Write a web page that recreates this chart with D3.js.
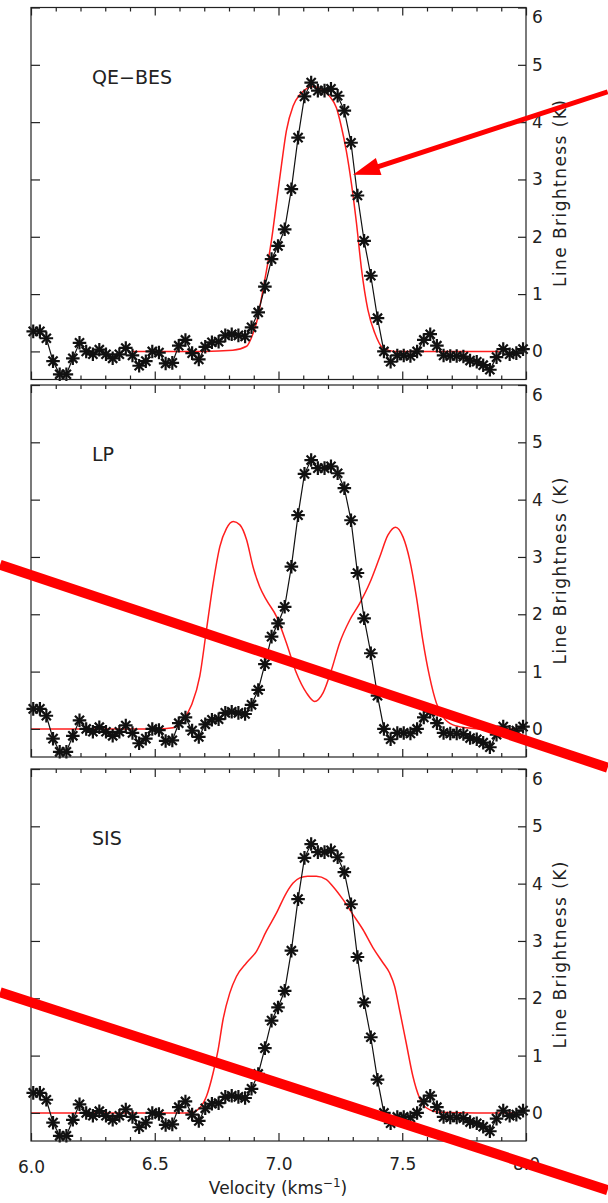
<!DOCTYPE html>
<html>
<head>
<meta charset="utf-8">
<script src="https://cdn.jsdelivr.net/npm/d3@7"></script>
<style>
  body { margin: 0; background: #fff; }
  svg { display: block; }
  text { font-family: "DejaVu Sans", sans-serif; fill: #222; }
</style>
</head>
<body>
<div id="chart"></div>
<script>
// Observed spectrum (same in every panel)
const velocity = [
  6.009, 6.036, 6.062, 6.089, 6.116, 6.143, 6.169, 6.196, 6.223, 6.250,
  6.276, 6.303, 6.330, 6.357, 6.383, 6.410, 6.437, 6.464, 6.490, 6.517,
  6.544, 6.571, 6.597, 6.624, 6.651, 6.678, 6.704, 6.731, 6.758, 6.785,
  6.811, 6.838, 6.865, 6.891, 6.918, 6.945, 6.972, 6.998, 7.025, 7.052,
  7.079, 7.105, 7.132, 7.159, 7.186, 7.212, 7.239, 7.266, 7.293, 7.319,
  7.346, 7.373, 7.400, 7.426, 7.453, 7.480, 7.506, 7.533, 7.560, 7.587,
  7.613, 7.640, 7.667, 7.694, 7.720, 7.747, 7.774, 7.801, 7.827, 7.854,
  7.881, 7.908, 7.934, 7.961, 7.988
];
const brightness = [
  0.35, 0.35, 0.23, -0.17, -0.40, -0.40, -0.12, 0.15, 0.00, -0.05,
  0.03, -0.05, -0.12, -0.05, 0.06, -0.07, -0.25, -0.17, 0.00, -0.02,
  -0.21, -0.20, 0.10, 0.20, -0.03, -0.14, 0.08, 0.16, 0.17, 0.28,
  0.30, 0.28, 0.26, 0.42, 0.68, 1.13, 1.61, 1.84, 2.13, 2.83,
  3.73, 4.45, 4.69, 4.55, 4.55, 4.58, 4.46, 4.20, 3.64, 2.72,
  1.93, 1.32, 0.58, 0.00, -0.18, -0.07, -0.07, -0.08, 0.00, 0.20,
  0.30, 0.10, -0.07, -0.08, -0.08, -0.09, -0.16, -0.18, -0.24, -0.32,
  -0.10, 0.04, -0.05, -0.03, 0.04
];

// Model profiles (red)
const qeVel = [6.412, 6.700, 6.815, 6.871, 6.896, 6.917, 6.932, 6.951, 6.972, 6.992,
  7.012, 7.032, 7.059, 7.086, 7.106, 7.134, 7.166, 7.207, 7.234, 7.254,
  7.274, 7.294, 7.315, 7.335, 7.361, 7.389, 7.422, 7.469, 7.600, 7.893];
const qeT = [0, 0, 0.02, 0.09, 0.30, 0.60, 0.95, 1.40, 1.95, 2.60,
  3.25, 3.85, 4.28, 4.48, 4.56, 4.62, 4.59, 4.45, 4.25, 3.92,
  3.50, 2.95, 2.24, 1.45, 0.73, 0.32, 0.06, 0, 0, 0];

const lpVel = [6.000, 6.300, 6.521, 6.574, 6.615, 6.649, 6.682, 6.709, 6.736, 6.763,
  6.790, 6.817, 6.844, 6.871, 6.897, 6.924, 6.951, 6.992, 7.032, 7.072,
  7.113, 7.146, 7.180, 7.214, 7.247, 7.288, 7.328, 7.368, 7.409, 7.442,
  7.473, 7.503, 7.530, 7.557, 7.583, 7.610, 7.638, 7.664, 7.705, 7.759,
  7.812, 8.000];
const lpT = [0, 0, 0, 0.02, 0.16, 0.42, 0.92, 1.73, 2.54, 3.18,
  3.50, 3.62, 3.56, 3.30, 2.83, 2.48, 2.25, 1.96, 1.50, 0.98,
  0.63, 0.48, 0.63, 1.03, 1.50, 1.90, 2.19, 2.54, 3.00, 3.38,
  3.52, 3.35, 2.95, 2.31, 1.55, 0.92, 0.45, 0.22, 0.07, 0.02,
  0, 0];

const sisVel = [6.000, 6.400, 6.642, 6.682, 6.709, 6.736, 6.756, 6.776, 6.803, 6.830,
  6.871, 6.911, 6.951, 6.992, 7.032, 7.059, 7.086, 7.118, 7.153, 7.194,
  7.220, 7.261, 7.301, 7.341, 7.382, 7.422, 7.449, 7.469, 7.489, 7.516,
  7.543, 7.570, 7.597, 7.651, 7.800, 8.000];
const sisT = [0, 0, 0, 0.09, 0.29, 0.70, 1.10, 1.63, 2.09, 2.38,
  2.62, 2.82, 3.17, 3.49, 3.84, 4.01, 4.10, 4.13, 4.13, 4.07,
  3.95, 3.72, 3.46, 3.20, 2.88, 2.62, 2.44, 2.21, 1.80, 1.22,
  0.64, 0.26, 0.09, 0.01, 0, 0];

const panelNames = ["QE\u2212BES", "LP", "SIS"];
const yTickValues = [0, 1, 2, 3, 4, 5, 6];
const xMajorTicks = [6.0, 6.5, 7.0, 7.5, 8.0];
const xMinorTicks = [6.1, 6.2, 6.3, 6.4, 6.6, 6.7, 6.8, 6.9, 7.1, 7.2, 7.3, 7.4, 7.6, 7.7, 7.8, 7.9];

// Hand-drawn red annotations, in data units of the panel they start in
const arrowNote = { panel: 0, from: [8.33, 4.53], to: [7.301, 3.08] };
const slashNotes = [
  { panel: 1, from: [5.875, 2.866], to: [8.33, -0.677] },
  { panel: 2, from: [5.875, 2.105], to: [8.33, -1.347] }
];

const width = 608;
const height = 1203;
const panelTop = [7.5, 385, 769];
const panelH = 372;

const svg = d3.select("#chart").append("svg")
  .attr("width", width)
  .attr("height", height);

const x = d3.scaleLinear().domain([6, 8]).range([31, 526]);

const models = [
  qeVel.map((v, i) => ({ v, t: qeT[i] })),
  lpVel.map((v, i) => ({ v, t: lpT[i] })),
  sisVel.map((v, i) => ({ v, t: sisT[i] }))
];
const obs = velocity.map((v, i) => ({ v, t: brightness[i] }));

const yScales = panelTop.map((top) =>
  d3.scaleLinear().domain([-0.49, 6]).range([top + panelH, top])
);

const styleTicks = (a) => {
  a.select(".domain").remove();
  a.selectAll(".tick line").attr("stroke", "#222").attr("stroke-width", 1.2);
  a.selectAll(".tick text")
    .attr("fill", "#222")
    .style("font-family", '"DejaVu Sans", sans-serif')
    .style("font-size", "17px");
};

panelTop.forEach((top, p) => {
  const y = yScales[p];
  const g = svg.append("g");

  // Model line
  const modelLine = d3.line()
    .x((d) => x(d.v))
    .y((d) => y(d.t))
    .curve(d3.curveMonotoneX);

  g.append("path")
    .datum(models[p])
    .attr("fill", "none")
    .attr("stroke", "#ff1e1e")
    .attr("stroke-width", 1.5)
    .attr("d", modelLine);

  // Observed line with star markers
  const obsLine = d3.line().x((d) => x(d.v)).y((d) => y(d.t));
  g.append("path")
    .datum(obs)
    .attr("fill", "none")
    .attr("stroke", "#111")
    .attr("stroke-width", 1.2)
    .attr("d", obsLine);

  [d3.symbolPlus, d3.symbolTimes].forEach((type) => {
    g.selectAll(null)
      .data(obs)
      .join("path")
      .attr("transform", (d) => `translate(${x(d.v)},${y(d.t)})`)
      .attr("d", d3.symbol().type(type).size(type === d3.symbolPlus ? 62 : 56))
      .attr("fill", "none")
      .attr("stroke", "#111")
      .attr("stroke-width", 2.2);
  });

  // Frame
  g.append("rect")
    .attr("x", x(6))
    .attr("y", top)
    .attr("width", x(8) - x(6))
    .attr("height", panelH)
    .attr("fill", "none")
    .attr("stroke", "#222")
    .attr("stroke-width", 1.2);

  // Ticks, all pointing inward
  const bottomMajor = d3.axisBottom(x).tickValues(xMajorTicks).tickSize(-8).tickPadding(17);
  if (p === 2) bottomMajor.tickFormat(d3.format(".1f"));
  else bottomMajor.tickFormat("");

  const axes = [
    [bottomMajor, `translate(0,${top + panelH})`],
    [d3.axisBottom(x).tickValues(xMinorTicks).tickSize(-4).tickFormat(""), `translate(0,${top + panelH})`],
    [d3.axisTop(x).tickValues(xMajorTicks).tickSize(-8).tickFormat(""), `translate(0,${top})`],
    [d3.axisTop(x).tickValues(xMinorTicks).tickSize(-4).tickFormat(""), `translate(0,${top})`],
    [d3.axisLeft(y).tickValues(yTickValues).tickSize(-9).tickFormat(""), `translate(${x(6)},0)`],
    [d3.axisRight(y).tickValues(yTickValues).tickSize(-8).tickPadding(6).tickFormat(d3.format("d")), `translate(${x(8)},0)`]
  ];

  axes.forEach(([axis, at]) => {
    g.append("g").attr("transform", at).call(axis).call(styleTicks);
  });

  // top label sits a little below its tick, as in the original
  g.selectAll(".tick text").filter((d) => d === 6).attr("dy", "0.9em");

  // Y axis title
  g.append("text")
    .attr("transform", `translate(566,${top + panelH / 2}) rotate(-90)`)
    .attr("text-anchor", "middle")
    .attr("textLength", 187)
    .attr("lengthAdjust", "spacing")
    .style("font-size", "17px")
    .text("Line Brightness  (K)");

  // Panel name
  g.append("text")
    .attr("x", 92)
    .attr("y", top + 76)
    .style("font-size", "19px")
    .text(panelNames[p]);
});

// X axis title
const xTitle = svg.append("text")
  .attr("x", 278)
  .attr("y", 1194)
  .attr("text-anchor", "middle")
  .style("font-size", "17px");
xTitle.append("tspan").text("Velocity  (kms");
xTitle.append("tspan").attr("dy", -7).style("font-size", "12px").text("\u22121");
xTitle.append("tspan").attr("dy", 7).text(")");

// Red annotation marks on top
const notes = svg.append("g");

slashNotes.forEach((n) => {
  const y = yScales[n.panel];
  notes.append("line")
    .attr("x1", x(n.from[0])).attr("y1", y(n.from[1]))
    .attr("x2", x(n.to[0])).attr("y2", y(n.to[1]))
    .attr("stroke", "#ff0000")
    .attr("stroke-width", 10);
});

{
  const y = yScales[arrowNote.panel];
  const x1 = x(arrowNote.from[0]), y1 = y(arrowNote.from[1]);
  const x2 = x(arrowNote.to[0]), y2 = y(arrowNote.to[1]);
  const len = Math.hypot(x2 - x1, y2 - y1);
  const ux = (x2 - x1) / len, uy = (y2 - y1) / len;
  const headLen = 27, headHalf = 9;
  const bx = x2 - ux * headLen, by = y2 - uy * headLen;

  notes.append("line")
    .attr("x1", x1).attr("y1", y1)
    .attr("x2", bx + ux * 2).attr("y2", by + uy * 2)
    .attr("stroke", "#ff0000")
    .attr("stroke-width", 5);

  notes.append("path")
    .attr("d", `M${x2},${y2}L${bx - uy * headHalf},${by + ux * headHalf}L${bx + uy * headHalf},${by - ux * headHalf}Z`)
    .attr("fill", "#ff0000");
}
</script>
</body>
</html>
